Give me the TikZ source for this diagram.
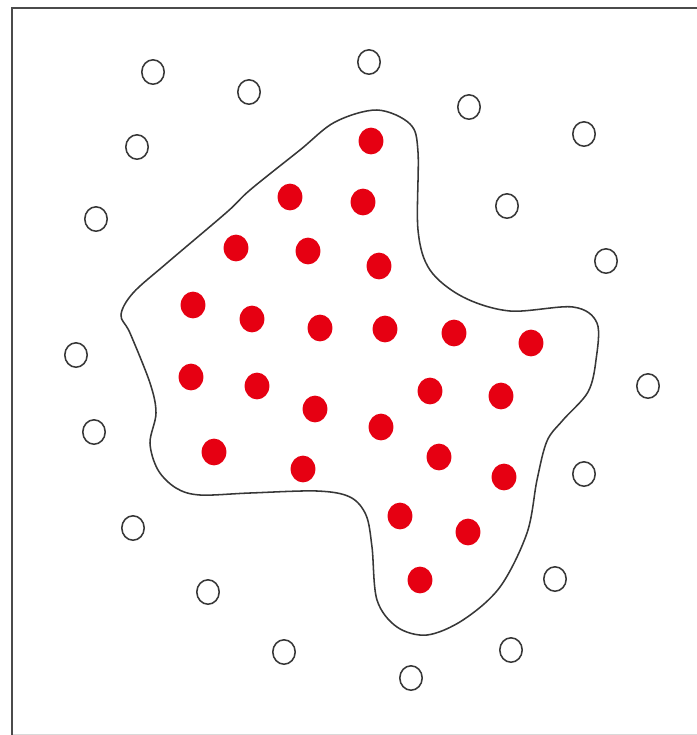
\documentclass[tikz,border=0pt]{standalone}
\usepackage{xcolor}
\usepackage{tikz}
\usetikzlibrary{shapes.geometric}
\definecolor{dotred}{RGB}{230,0,18}
\definecolor{linegray}{RGB}{55,55,55}
\tikzset{
    reddot/.style={
        ellipse, fill=dotred, draw=none, inner sep=0pt,
        minimum width=6.2mm, minimum height=6.7mm
    },
    opendot/.style={
        ellipse, draw=linegray, line width=1.1pt, fill=white, inner sep=0pt,
        minimum width=5.6mm, minimum height=6.1mm
    },
    blob/.style={
        draw=linegray, line width=1.1pt
    }
}

\begin{document}
\begin{tikzpicture}[x=0.25mm, y=-0.25mm]

\useasboundingbox (0,0) rectangle (697,735);

% Cornice
\draw[gray!30, line width=0.6pt] (12,734) -- (697,734);
\draw[linegray!90, line width=1.4pt] (12,735) -- (12,8) -- (697,8);

% Contorno della regione
\draw[blob] plot[smooth cycle, tension=0.55] coordinates {
    (377,110) (410,124) (418,152) (418,230) (430,270) (463,297)
    (510,311) (573,307) (597,323) (596,360) (588,392) (563,420)
    (547,441) (537,480) (527,533) (500,587) (463,620) (427,635)
    (397,627) (377,600) (372,547) (366,515) (350,497) (317,491)
    (250,493) (200,495) (176,488) (158,470) (150,443) (156,413)
    (150,383) (130,333) (121,315) (133,293) (167,263) (227,212)
    (250,190) (300,150) (335,122)
};

% Punti rossi (interni)
\node[reddot] (r1) at (371,141) {};
\node[reddot] (r2) at (290,197) {};
\node[reddot] (r3) at (363,202) {};
\node[reddot] (r4) at (236,248) {};
\node[reddot] (r5) at (308,251) {};
\node[reddot] (r6) at (379,266) {};
\node[reddot] (r7) at (193,305) {};
\node[reddot] (r8) at (252,319) {};
\node[reddot] (r9) at (320,328) {};
\node[reddot] (r10) at (385,329) {};
\node[reddot] (r11) at (454,333) {};
\node[reddot] (r12) at (531,343) {};
\node[reddot] (r13) at (191,377) {};
\node[reddot] (r14) at (257,386) {};
\node[reddot] (r15) at (430,391) {};
\node[reddot] (r16) at (501,396) {};
\node[reddot] (r17) at (315,409) {};
\node[reddot] (r18) at (381,427) {};
\node[reddot] (r19) at (214,452) {};
\node[reddot] (r20) at (439,457) {};
\node[reddot] (r21) at (303,469) {};
\node[reddot] (r22) at (504,477) {};
\node[reddot] (r23) at (400,516) {};
\node[reddot] (r24) at (468,532) {};
\node[reddot] (r25) at (420,580) {};

% Punti vuoti (esterni)
\node[opendot] (o1) at (153,72) {};
\node[opendot] (o2) at (249,92) {};
\node[opendot] (o3) at (369,62) {};
\node[opendot] (o4) at (469,107) {};
\node[opendot] (o5) at (584,134) {};
\node[opendot] (o6) at (137,147) {};
\node[opendot] (o7) at (507,206) {};
\node[opendot] (o8) at (96,219) {};
\node[opendot] (o9) at (606,261) {};
\node[opendot] (o10) at (76,355) {};
\node[opendot] (o11) at (648,386) {};
\node[opendot] (o12) at (94,432) {};
\node[opendot] (o13) at (584,474) {};
\node[opendot] (o14) at (133,528) {};
\node[opendot] (o15) at (555,579) {};
\node[opendot] (o16) at (208,592) {};
\node[opendot] (o17) at (511,650) {};
\node[opendot] (o18) at (284,652) {};
\node[opendot] (o19) at (411,678) {};

\end{tikzpicture}
\end{document}
